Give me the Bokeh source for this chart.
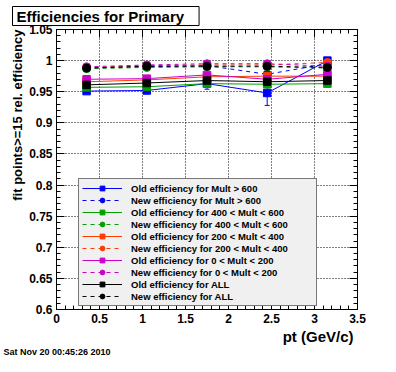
import numpy as np
from bokeh.plotting import figure
from bokeh.models import (Range1d, LinearAxis, SingleIntervalTicker, CustomJSTickFormatter,
                          Legend, LegendItem, Title, Whisker, TeeHead, ColumnDataSource, Grid)
from bokeh.embed import file_html
from bokeh.resources import INLINE

# ---- data ----
pt = [0.35, 1.05, 1.75, 2.45, 3.15]

old_gt600 = [0.951, 0.952, 0.963, 0.948, 1.000]
old_gt600_err = [0.003, 0.003, 0.009, 0.020, 0.004]
new_gt600 = [0.988, 0.990, 0.992, 0.978, 0.995]
old_400_600 = [0.957, 0.958, 0.963, 0.962, 0.963]
new_400_600 = [0.987, 0.989, 0.990, 0.990, 0.988]
old_200_400 = [0.966, 0.969, 0.974, 0.975, 0.975]
new_200_400 = [0.989, 0.992, 0.993, 0.993, 0.997]
old_0_200 = [0.970, 0.971, 0.977, 0.970, 0.978]
new_0_200 = [0.990, 0.993, 0.995, 0.995, 0.991]
old_all = [0.961, 0.964, 0.968, 0.966, 0.968]
new_all = [0.988, 0.991, 0.991, 0.991, 0.989]

series = [
    ("Old efficiency for Mult > 600", old_gt600, "#0000ff", "solid", "square"),
    ("New efficiency for Mult > 600", new_gt600, "#0000ff", "dashed", "circle"),
    ("Old efficiency for 400 < Mult < 600", old_400_600, "#00a000", "solid", "square"),
    ("New efficiency for 400 < Mult < 600", new_400_600, "#00a000", "dashed", "circle"),
    ("Old efficiency for 200 < Mult < 400", old_200_400, "#ff3c00", "solid", "square"),
    ("New efficiency for 200 < Mult < 400", new_200_400, "#ff3c00", "dashed", "circle"),
    ("Old efficiency for 0 < Mult < 200", old_0_200, "#cc00cc", "solid", "square"),
    ("New efficiency for 0 < Mult < 200", new_0_200, "#cc00cc", "dashed", "circle"),
    ("Old efficiency for ALL", old_all, "#000000", "solid", "square"),
    ("New efficiency for ALL", new_all, "#000000", "dashed", "circle"),
]

title_text = "Efficiencies for Primary"
x_title = "pt (GeV/c)"
y_title = "fit points>=15 rel. efficiency"
date_text = "Sat Nov 20 00:45:26 2010"

FONT = "Liberation Sans"

p = figure(width=380, height=356, output_backend="svg", toolbar_location=None,
           x_range=Range1d(0, 3.5), y_range=Range1d(0.6, 1.05),
           min_border_left=56, min_border_right=23, min_border_top=0, min_border_bottom=0,
           x_axis_type=None, y_axis_type=None)
p.background_fill_color = "white"
p.border_fill_color = "white"
p.outline_line_color = "black"
p.outline_line_width = 1

fmt = CustomJSTickFormatter(code="return String(Math.round(tick*100)/100);")
blank = CustomJSTickFormatter(code="return '';")

def make_axis(kind, labels):
    ticker = SingleIntervalTicker(interval=0.5 if kind == "x" else 0.05, num_minor_ticks=5)
    ax = LinearAxis(ticker=ticker, formatter=fmt if labels else blank)
    ax.axis_line_color = "black"
    ax.major_tick_in = 8
    ax.major_tick_out = 0
    ax.minor_tick_in = 4
    ax.minor_tick_out = 0
    ax.major_tick_line_color = "black"
    ax.minor_tick_line_color = "black"
    ax.major_label_text_font = FONT
    ax.major_label_text_font_style = "bold"
    ax.major_label_text_font_size = "12px" if labels else "1px"
    ax.major_label_text_color = "black"
    ax.major_label_standoff = 4 if labels else 0
    return ax, ticker

xax, xt = make_axis("x", True)
yax, yt = make_axis("y", True)
xtop, _ = make_axis("x", False)
yright, _ = make_axis("y", False)
p.add_layout(xax, "below")
p.add_layout(yax, "left")
p.add_layout(xtop, "above")
p.add_layout(yright, "right")

for dim, tk in ((0, xt), (1, yt)):
    g = Grid(dimension=dim, ticker=tk, grid_line_color="black", grid_line_dash="1 2",
             grid_line_width=1)
    p.add_layout(g)

items = []
for label, vals, color, dash, marker in series:
    lr = p.line(pt, vals, line_color=color, line_width=1,
                line_dash=("4 4" if dash == "dashed" else "solid"))
    if label == "Old efficiency for Mult > 600":
        lo = list(np.array(vals) - np.array(old_gt600_err))
        hi = list(np.array(vals) + np.array(old_gt600_err))
        src = ColumnDataSource(dict(x=pt, lo=lo, hi=hi))
        w = Whisker(base="x", lower="lo", upper="hi", source=src, line_color=color,
                    upper_head=TeeHead(size=5, line_color=color),
                    lower_head=TeeHead(size=5, line_color=color))
        p.add_layout(w)
    if marker == "square":
        sr = p.scatter(pt, vals, marker="square", size=7.5, fill_color=color, line_color=color)
    else:
        sr = p.scatter(pt, vals, marker="circle", size=8, fill_color=color, line_color=color)
    items.append(LegendItem(label=label, renderers=[lr, sr]))

leg = Legend(items=items, location=(22, 3))
leg.label_text_font = FONT
leg.label_text_font_style = "bold"
leg.label_text_font_size = "9.5px"
leg.label_text_color = "black"
leg.background_fill_color = "#f0f0f0"
leg.background_fill_alpha = 1
leg.border_line_color = "black"
leg.border_line_width = 1
leg.glyph_width = 40
leg.glyph_height = 12
leg.label_height = 12
leg.label_width = 182
leg.label_standoff = 9
leg.spacing = 0
leg.padding = 3
leg.margin = 0
p.add_layout(leg, "center")

has_standoff = "standoff" in Title.properties()

def mk_title(text, size, align, offset=0, standoff=0, **kw):
    t = Title(text=text, align=align, offset=offset, text_font=FONT,
              text_font_style="bold", text_font_size=size, text_color="black", **kw)
    if has_standoff:
        t.standoff = standoff
    return t

p.add_layout(mk_title(title_text, "15px", "left", offset=-44, standoff=8,
                      border_line_color="black", background_fill_color="white",
                      padding=dict(left=4, right=15, top=1, bottom=1)), "above")
p.add_layout(mk_title(y_title, "13px", "right", standoff=4), "left")
p.add_layout(mk_title(x_title, "15px", "right", offset=4, standoff=0), "below")
p.add_layout(mk_title(date_text, "9px", "left", offset=-53, standoff=0), "below")

open("out.html", "w").write(file_html(p, INLINE))
